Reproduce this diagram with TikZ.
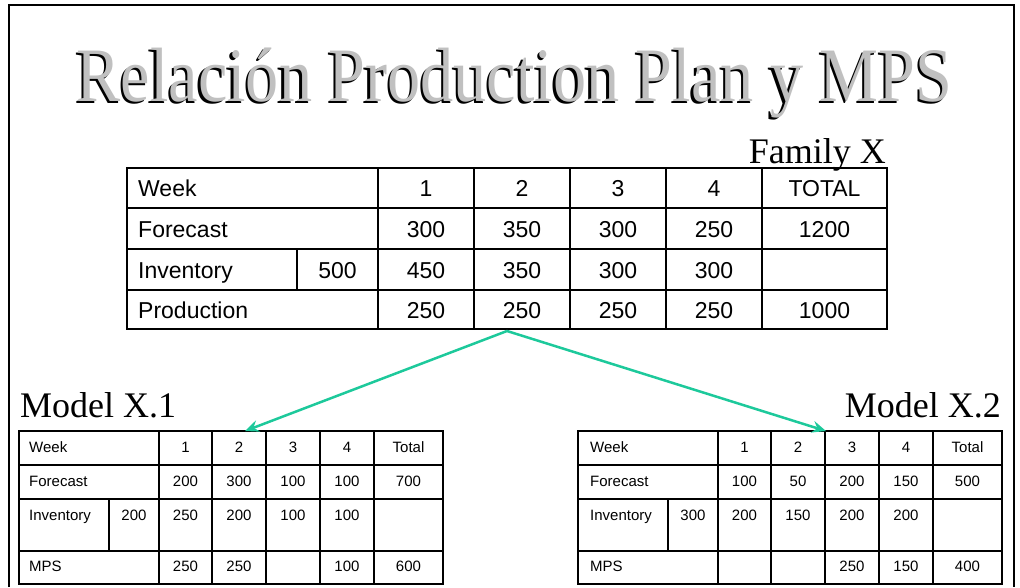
\documentclass[tikz,border=0pt]{standalone}
\usepackage{fontspec}
\usepackage{graphicx}
\setmainfont{Liberation Serif}
\setsansfont{Liberation Sans}
\usetikzlibrary{arrows.meta}

\definecolor{flowgreen}{HTML}{1DC99B}
\definecolor{titlegray}{HTML}{C0C0C0}

\tikzset{
  frame/.style={line width=2pt},
  gridbig/.style={line width=1.8pt},
  gridsmall/.style={line width=1.5pt},
  bigcell/.style={font=\sffamily\fontsize{23}{23}\selectfont, anchor=base, inner sep=0pt},
  bigleft/.style={bigcell, anchor=base west},
  smallcell/.style={font=\sffamily\fontsize{15}{15}\selectfont, anchor=base, inner sep=0pt},
  smallleft/.style={smallcell, anchor=base west},
  serifhead/.style={font=\fontsize{36}{36}\selectfont, inner sep=0pt},
  titlefont/.style={font=\fontsize{77}{77}\selectfont, inner sep=0pt, anchor=base},
  link/.style={flowgreen, line width=2.5pt, -{Stealth[length=14pt,width=12pt,inset=5pt]}},
}

% grid of one MPS table (model level)
\newcommand\mpsgrid{%
  \draw[gridsmall] (19,431) rectangle (443,584);
  \foreach \y in {465,499,551} \draw[gridsmall] (19,\y) -- (443,\y);
  \foreach \x in {159,212,266,320,374} \draw[gridsmall] (\x,431) -- (\x,584);
  \draw[gridsmall] (109,499) -- (109,551);
}

% condensed title text, gray face over a black drop shadow
\newcommand\titletext{\scalebox{0.86}[1]{Relación Production Plan y MPS}}
\newcommand\shadowedtitle{%
  \rlap{\kern-2.5pt\raisebox{-2.5pt}{\color{black}\titletext}}%
  \textcolor{titlegray}{\titletext}}

\begin{document}
\begin{tikzpicture}[x=1pt,y=-1pt]
\useasboundingbox (0,0) rectangle (1020,587);

% slide frame
\draw[frame] (9,587) -- (9,5) -- (1014,5) -- (1014,587);

% title
\node[titlefont] (title) at (514.5,101) {\shadowedtitle};

% family-level production plan
\node[serifhead, anchor=base east] (family) at (886,163) {Family X};
\draw[gridbig] (127,168) rectangle (887,329);
\foreach \y in {208,249,290} \draw[gridbig] (127,\y) -- (887,\y);
\foreach \x in {378,474,570,666,762} \draw[gridbig] (\x,168) -- (\x,329);
\draw[gridbig] (297,249) -- (297,290);

\node[bigleft] (pw) at (138,196.5) {Week};
\foreach \x/\t [count=\i] in {426/1,522/2,618/3,714/4,824.5/TOTAL}
  \node[bigcell] (pw\i) at (\x,196.5) {\t};
\node[bigleft] (pf) at (138,237) {Forecast};
\foreach \x/\t [count=\i] in {426/300,522/350,618/300,714/250,824.5/1200}
  \node[bigcell] (pf\i) at (\x,237) {\t};
\node[bigleft] (pi) at (138,278) {Inventory};
\node[bigcell] (pi0) at (337.5,278) {500};
\foreach \x/\t [count=\i] in {426/450,522/350,618/300,714/300}
  \node[bigcell] (pi\i) at (\x,278) {\t};
\node[bigleft] (pp) at (138,318) {Production};
\foreach \x/\t [count=\i] in {426/250,522/250,618/250,714/250,824.5/1000}
  \node[bigcell] (pp\i) at (\x,318) {\t};

% model X.1
\node[serifhead, anchor=base west] (modelA) at (20,417) {Model X.1};
\begin{scope}[name prefix=A-]
  \mpsgrid
  \node[smallleft] (w) at (29,452) {Week};
  \foreach \x/\t [count=\i] in {185.5/1,239/2,293/3,347/4,408.5/Total}
    \node[smallcell] (w\i) at (\x,452) {\t};
  \node[smallleft] (f) at (29,486.5) {Forecast};
  \foreach \x/\t [count=\i] in {185.5/200,239/300,293/100,347/100,408.5/700}
    \node[smallcell] (f\i) at (\x,486.5) {\t};
  \node[smallleft] (inv) at (29,520) {Inventory};
  \node[smallcell] (inv0) at (134,520) {200};
  \foreach \x/\t [count=\i] in {185.5/250,239/200,293/100,347/100}
    \node[smallcell] (inv\i) at (\x,520) {\t};
  \node[smallleft] (m) at (29,571) {MPS};
  \foreach \x/\t/\c in {185.5/250/1,239/250/2,347/100/4,408.5/600/5}
    \node[smallcell] (m\c) at (\x,571) {\t};
\end{scope}

% model X.2
\node[serifhead, anchor=base east] (modelB) at (1001,417) {Model X.2};
\begin{scope}[xshift=559pt, name prefix=B-]
  \mpsgrid
  \node[smallleft] (w) at (31,452) {Week};
  \foreach \x/\t [count=\i] in {185.5/1,239/2,293/3,347/4,408.5/Total}
    \node[smallcell] (w\i) at (\x,452) {\t};
  \node[smallleft] (f) at (31,486.5) {Forecast};
  \foreach \x/\t [count=\i] in {185.5/100,239/50,293/200,347/150,408.5/500}
    \node[smallcell] (f\i) at (\x,486.5) {\t};
  \node[smallleft] (inv) at (31,520) {Inventory};
  \node[smallcell] (inv0) at (134,520) {300};
  \foreach \x/\t [count=\i] in {185.5/200,239/150,293/200,347/200}
    \node[smallcell] (inv\i) at (\x,520) {\t};
  \node[smallleft] (m) at (31,571) {MPS};
  \foreach \x/\t/\c in {293/250/3,347/150/4,408.5/400/5}
    \node[smallcell] (m\c) at (\x,571) {\t};
\end{scope}

% disaggregation arrows
\coordinate (fork) at (507,331);
\coordinate (toA) at (245,431);
\coordinate (toB) at (826,431);
\draw[link] (fork) -- (toA);
\draw[link] (fork) -- (toB);
\end{tikzpicture}
\end{document}
